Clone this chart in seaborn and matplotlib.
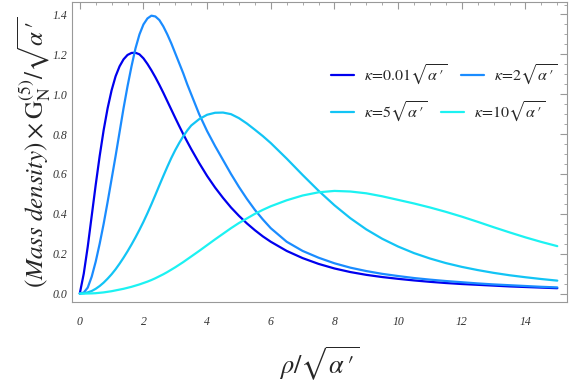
import numpy as np
import pandas as pd
import seaborn as sns
import matplotlib
matplotlib.use("Agg")
import matplotlib.pyplot as plt
from matplotlib.ticker import MultipleLocator

# ---- data ----
rho = [0, 0.125, 0.25, 0.375, 0.5, 0.625, 0.75, 0.875, 1.0, 1.125, 1.25, 1.375, 1.5,
       1.625, 1.75, 1.875, 2.0, 2.125, 2.25, 2.375, 2.5, 2.625, 2.75, 2.875, 3.0, 3.125,
       3.25, 3.375, 3.5, 3.75, 4.0, 4.25, 4.5, 4.75, 5.0, 5.25, 5.5, 5.75, 6.0, 6.5, 7.0,
       7.5, 8.0, 8.5, 9.0, 9.5, 10.0, 10.5, 11.0, 11.5, 12.0, 12.5, 13.0, 13.5, 14.0,
       14.5, 15.0]

k001 = [0, 0.10, 0.235, 0.39, 0.545, 0.69, 0.82, 0.93, 1.02, 1.09, 1.14, 1.175, 1.197,
        1.207, 1.208, 1.20, 1.18, 1.152, 1.12, 1.085, 1.047, 1.007, 0.965, 0.923, 0.881,
        0.84, 0.80, 0.762, 0.725, 0.655, 0.59, 0.532, 0.48, 0.432, 0.39, 0.352, 0.318,
        0.287, 0.26, 0.214, 0.178, 0.149, 0.126, 0.108, 0.094, 0.083, 0.074, 0.066, 0.059,
        0.053, 0.048, 0.044, 0.040, 0.036, 0.033, 0.030, 0.027]

k2 = [0, 0.005, 0.03, 0.085, 0.16, 0.25, 0.35, 0.46, 0.575, 0.69, 0.81, 0.93, 1.04, 1.14,
      1.23, 1.30, 1.35, 1.38, 1.394, 1.39, 1.372, 1.34, 1.30, 1.255, 1.205, 1.155, 1.105,
      1.05, 1.00, 0.90, 0.815, 0.74, 0.67, 0.60, 0.535, 0.475, 0.42, 0.372, 0.328, 0.26,
      0.214, 0.18, 0.152, 0.13, 0.113, 0.099, 0.088, 0.078, 0.070, 0.063, 0.057, 0.051,
      0.046, 0.042, 0.038, 0.034, 0.031]

k5 = [0, 0.0015, 0.006, 0.013, 0.024, 0.038, 0.055, 0.075, 0.097, 0.122, 0.15, 0.18,
      0.212, 0.246, 0.282, 0.32, 0.36, 0.403, 0.448, 0.495, 0.543, 0.59, 0.636, 0.68,
      0.72, 0.756, 0.789, 0.818, 0.843, 0.875, 0.897, 0.907, 0.908, 0.90, 0.88, 0.853,
      0.822, 0.79, 0.755, 0.677, 0.595, 0.516, 0.443, 0.378, 0.322, 0.275, 0.236, 0.203,
      0.176, 0.153, 0.134, 0.118, 0.104, 0.092, 0.082, 0.073, 0.065]

k10 = [0, 0.0, 0.0005, 0.001, 0.002, 0.004, 0.006, 0.009, 0.012, 0.016, 0.02, 0.024,
       0.029, 0.034, 0.04, 0.046, 0.053, 0.06, 0.068, 0.077, 0.087, 0.097, 0.108, 0.12,
       0.132, 0.145, 0.158, 0.172, 0.186, 0.214, 0.243, 0.272, 0.30, 0.328, 0.354, 0.377,
       0.40, 0.42, 0.438, 0.468, 0.492, 0.508, 0.515, 0.512, 0.503, 0.488, 0.47, 0.452,
       0.432, 0.41, 0.386, 0.36, 0.333, 0.307, 0.282, 0.259, 0.238]

labels = [r"$\kappa\!=\!\mathit{0.01}\sqrt{\alpha\,\prime}$",
          r"$\kappa\!=\!\mathit{2}\sqrt{\alpha\,\prime}$",
          r"$\kappa\!=\!\mathit{5}\sqrt{\alpha\,\prime}$",
          r"$\kappa\!=\!\mathit{10}\sqrt{\alpha\,\prime}$"]
colors = ["#0000EE", "#1A8CFF", "#12C4F5", "#1CF2F2"]

x_ticks = [0, 2, 4, 6, 8, 10, 12, 14]
y_ticks = [0.0, 0.2, 0.4, 0.6, 0.8, 1.0, 1.2, 1.4]

# ---- build table ----
frames = []
for lab, vals in zip(labels, [k001, k2, k5, k10]):
    frames.append(pd.DataFrame({"rho": rho, "val": vals, "kappa": lab}))
df = pd.concat(frames, ignore_index=True)

sns.set_style("white")
plt.rcParams["mathtext.fontset"] = "stix"
plt.rcParams["font.family"] = ["Liberation Serif", "DejaVu Serif"]

fig = plt.figure(figsize=(5.7, 3.82), dpi=100)
ax = fig.add_axes([0.126, 0.209, 0.869, 0.786])

sns.lineplot(data=df, x="rho", y="val", hue="kappa", hue_order=labels,
             palette=dict(zip(labels, colors)), linewidth=1.6, ax=ax,
             estimator=None, sort=False, legend=False)

ax.set_xlim(-0.25, 15.31)
ax.set_ylim(-0.043, 1.463)
ax.set_xticks(x_ticks)
ax.set_xticklabels([str(v) for v in x_ticks])
ax.set_yticks(y_ticks)
ax.set_yticklabels([f"{v:.1f}" for v in y_ticks])
ax.xaxis.set_minor_locator(MultipleLocator(0.5))
ax.yaxis.set_minor_locator(MultipleLocator(0.05))

ax.tick_params(which="both", direction="in", top=True, right=True, color="#999999",
               labelcolor="#333333", labelsize=8.5)
ax.tick_params(which="major", length=5, width=0.8)
ax.tick_params(which="minor", length=2.5, width=0.6)
ax.tick_params(axis="x", pad=10)
for lab in ax.get_xticklabels() + ax.get_yticklabels():
    lab.set_fontstyle("italic")
for s in ax.spines.values():
    s.set_color("#999999")
    s.set_linewidth(0.8)

ax.set_xlabel(r"$\rho/\sqrt{\alpha\,\prime}$", fontsize=19, labelpad=12)
ax.set_ylabel(r"$(\mathit{Mass\ density})\times \mathrm{G}_{\mathrm{N}}^{(5)}/\sqrt{\alpha\,\prime}$",
              fontsize=18, labelpad=0)

handles = [plt.Line2D([0], [0], color=c, lw=1.6) for c in colors]
leg_kw = dict(ncol=2, frameon=False, loc="center left", fontsize=11.5, borderpad=0,
              handlelength=1.45, columnspacing=0.9, handletextpad=0.6)
leg1 = ax.legend(handles[0:2], labels[0:2], bbox_to_anchor=(0.507, 0.757), **leg_kw)
ax.add_artist(leg1)
ax.legend(handles[2:4], labels[2:4], bbox_to_anchor=(0.507, 0.634), **leg_kw)

fig.savefig("out.png", dpi=100)
